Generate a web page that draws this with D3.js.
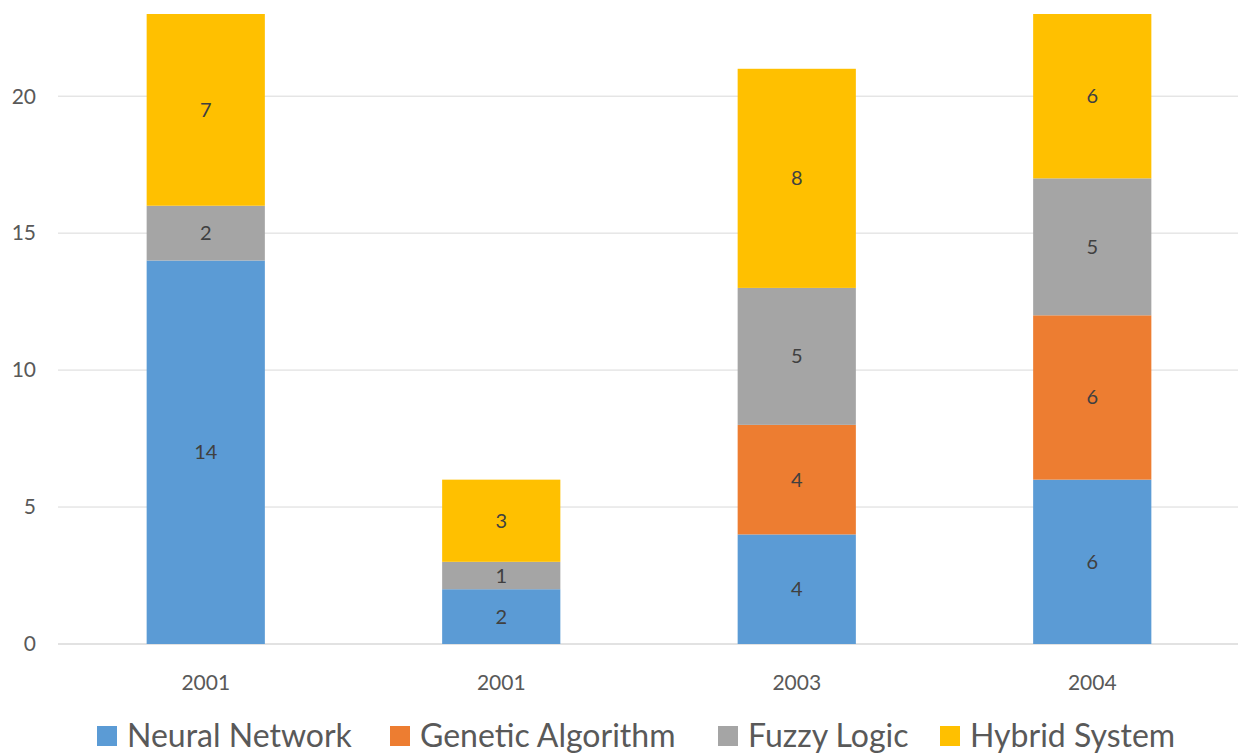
<!DOCTYPE html>
<html>
<head>
<meta charset="utf-8">
<script src="https://cdn.jsdelivr.net/npm/d3@7"></script>
<style>
  body { margin: 0; background: #fff; }
  text { font-family: Lato, "Open Sans", sans-serif; }
</style>
</head>
<body>
<div class="chart"></div>
<script>
// data
var years = ["2001", "2001", "2003", "2004"];
var seriesNames = ["Neural Network", "Genetic Algorithm", "Fuzzy Logic", "Hybrid System"];
var neural = [14, 2, 4, 6];
var genetic = [0, 0, 4, 6];
var fuzzy = [2, 1, 5, 5];
var hybrid = [7, 3, 8, 6];
var yTicks = [0, 5, 10, 15, 20];
var colors = ["#5B9BD5", "#ED7D31", "#A5A5A5", "#FFC000"];

var W = 1242, H = 754;
var margin = {top: 14, right: 2, bottom: 110, left: 58};
var width = W - margin.left - margin.right,
    height = H - margin.top - margin.bottom;

var svg = d3.select(".chart").append("svg")
  .attr("width", W).attr("height", H);
var g = svg.append("g")
  .attr("transform", "translate(" + margin.left + "," + margin.top + ")");

// build rows for the stack, indexed because two categories share a label
var rows = years.map(function(y, i) {
  return {idx: i, year: y, "Neural Network": neural[i], "Genetic Algorithm": genetic[i],
          "Fuzzy Logic": fuzzy[i], "Hybrid System": hybrid[i]};
});

var x = d3.scaleBand()
  .domain(d3.range(years.length))
  .range([0, width])
  .paddingInner(0.6)
  .paddingOuter(0.3);

var y = d3.scaleLinear().domain([0, 23]).range([height, 0]);

var color = d3.scaleOrdinal().domain(seriesNames).range(colors);

// gridlines
g.append("g").selectAll("line")
  .data(yTicks)
  .enter().append("line")
    .attr("x1", 0).attr("x2", width - 2)
    .attr("y1", function(d) { return y(d); })
    .attr("y2", function(d) { return y(d); })
    .attr("stroke", "#d9d9d9")
    .attr("stroke-width", function(d) { return d === 0 ? 1.5 : 1; });

// y tick labels
g.append("g").selectAll("text")
  .data(yTicks)
  .enter().append("text")
    .attr("x", -22)
    .attr("y", function(d) { return y(d); })
    .attr("dy", "0.35em")
    .attr("text-anchor", "end")
    .attr("fill", "#595959")
    .style("font-size", "21px")
    .text(function(d) { return d; });

// x labels
g.append("g").selectAll("text")
  .data(rows)
  .enter().append("text")
    .attr("x", function(d) { return x(d.idx) + x.bandwidth() / 2; })
    .attr("y", height + 39)
    .attr("dy", "0.35em")
    .attr("text-anchor", "middle")
    .attr("fill", "#595959")
    .style("font-size", "21px")
    .text(function(d) { return d.year; });

var stacked = d3.stack().keys(seriesNames)(rows);

var layers = g.append("g").selectAll("g")
  .data(stacked)
  .enter().append("g")
    .attr("fill", function(d) { return color(d.key); });

layers.selectAll("rect")
  .data(function(d) { return d; })
  .enter().append("rect")
    .attr("x", function(d) { return x(d.data.idx); })
    .attr("y", function(d) { return y(d[1]); })
    .attr("height", function(d) { return y(d[0]) - y(d[1]); })
    .attr("width", x.bandwidth());

// value labels
layers.selectAll("text")
  .data(function(d) { return d.filter(function(e) { return e[1] - e[0] > 0; }); })
  .enter().append("text")
    .attr("x", function(d) { return x(d.data.idx) + x.bandwidth() / 2; })
    .attr("y", function(d) { return (y(d[0]) + y(d[1])) / 2; })
    .attr("dy", "0.35em")
    .attr("text-anchor", "middle")
    .attr("fill", "#404040")
    .style("font-size", "20px")
    .text(function(d) { return d[1] - d[0]; });

// legend
var legendX = [97, 390, 718, 940];
var legend = svg.append("g").selectAll("g")
  .data(seriesNames)
  .enter().append("g")
    .attr("transform", function(d, i) { return "translate(" + legendX[i] + "," + 736 + ")"; });
legend.append("rect")
  .attr("x", 0).attr("y", -10)
  .attr("width", 20).attr("height", 20)
  .attr("fill", function(d) { return color(d); });
legend.append("text")
  .attr("x", 30).attr("y", 0)
  .attr("dy", "0.35em")
  .attr("fill", "#595959")
  .style("font-size", "32px")
  .text(function(d) { return d; });
</script>
</body>
</html>
